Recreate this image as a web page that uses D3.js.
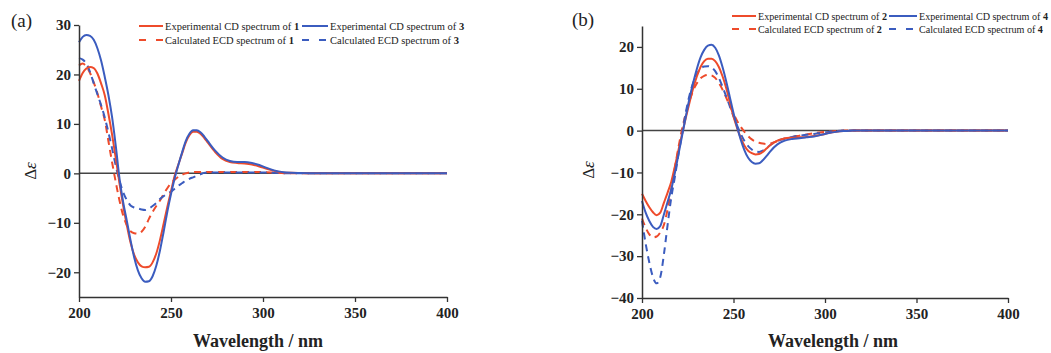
<!DOCTYPE html>
<html>
<head>
<meta charset="utf-8">
<script src="https://cdn.jsdelivr.net/npm/d3@7"></script>
<style>
  body { margin: 0; background: #fff; }
  text { font-family: "Liberation Serif", "Times New Roman", serif; fill: #222; }
</style>
</head>
<body>
<script>
// wavelengths (nm) shared by every curve
const wavelengths = [200,202,204,206,208,210,212,214,216,218,220,222,224,226,228,230,232,234,236,238,
  240,242,244,246,248,250,252,254,256,258,260,262,264,266,268,270,
  274,278,282,286,290,294,298,302,306,310,315,320,330,350,400];

// panel (a)
const expA1 = [18.7,20.3,21.2,21.5,21.3,20.2,18.2,15.8,12.0,7.8,3.0,-2.0,-6.5,-10.5,-14.0,-16.5,-18.0,-18.8,-19.0,-18.9,
  -18.0,-16.2,-13.5,-10.2,-6.8,-3.6,-0.5,1.8,4.0,6.2,7.7,8.4,8.4,8.0,7.2,6.2,
  4.3,2.9,2.3,2.1,2.0,1.8,1.4,0.9,0.5,0.2,0.1,0.05,0,0,0];
const expA3 = [26.5,27.6,28.0,27.8,27.0,25.3,22.8,19.5,15.8,11.3,5.5,-1.0,-5.8,-9.6,-13.5,-17.0,-19.6,-21.2,-21.9,-21.8,
  -20.8,-18.7,-15.6,-11.8,-7.8,-4.2,-1.0,1.7,4.2,6.5,8.0,8.7,8.7,8.3,7.5,6.5,
  4.6,3.2,2.5,2.3,2.3,2.1,1.7,1.1,0.6,0.3,0.1,0.05,0,0,0];
const calcA1 = [21.8,22.2,21.6,20.3,18.4,16.2,13.5,10.8,6.5,2.2,-1.8,-5.5,-8.5,-10.5,-11.7,-12.1,-12.2,-11.8,-10.8,-9.2,
  -7.8,-6.6,-5.5,-4.2,-3.0,-2.0,-1.3,-0.7,-0.3,0.0,0.2,0.3,0.3,0.3,0.3,0.3,
  0.3,0.3,0.3,0.3,0.3,0.3,0.3,0.25,0.15,0.05,0,0,0,0,0];
const calcA3 = [23.3,23.0,22.2,20.5,18.2,16.0,13.8,11.3,8.3,5.0,1.5,-1.5,-3.8,-5.4,-6.5,-6.9,-7.1,-7.3,-7.4,-7.1,
  -6.6,-6.0,-5.2,-4.6,-4.1,-3.7,-3.1,-2.5,-2.0,-1.5,-1.1,-0.8,-0.5,-0.2,0.1,0.2,
  0.2,0.2,0.2,0.2,0.2,0.2,0.2,0.2,0.1,0.05,0,0,0,0,0];

// panel (b)
const expB2 = [-15.1,-16.8,-18.3,-19.5,-20.2,-19.6,-17.2,-14.8,-12.2,-8.5,-4.5,-0.6,3.2,6.8,10.2,13.0,15.2,16.6,17.2,17.2,
  16.6,15.2,13.0,10.2,6.8,3.4,0.6,-1.8,-3.6,-4.8,-5.4,-5.7,-5.6,-5.1,-4.3,-3.5,
  -2.4,-1.9,-1.7,-1.6,-1.5,-1.3,-1.0,-0.6,-0.3,-0.1,0,0.05,0.05,0,0];
const expB4 = [-16.8,-19.6,-21.6,-23.0,-23.5,-22.8,-20.0,-17.0,-14.0,-10.0,-5.5,-1.0,3.5,7.8,11.5,14.8,17.5,19.3,20.3,20.5,
  19.8,18.0,15.2,11.8,8.0,4.2,0.8,-2.2,-4.7,-6.5,-7.5,-7.9,-7.8,-7.1,-6.1,-5.0,
  -3.3,-2.4,-2.0,-1.8,-1.6,-1.4,-1.0,-0.6,-0.3,-0.1,0,0.05,0.05,0,0];
const calcB2 = [-21.0,-23.2,-24.8,-25.5,-25.3,-24.3,-22.5,-18.8,-14.0,-8.8,-3.8,0.6,4.2,7.2,9.6,11.3,12.5,13.1,13.3,13.2,
  12.6,11.4,9.8,7.9,5.9,4.0,2.3,0.9,-0.3,-1.3,-2.1,-2.6,-2.9,-3.1,-3.2,-3.1,
  -2.5,-1.9,-1.5,-1.2,-0.9,-0.6,-0.4,-0.2,-0.1,0,0,0,0,0,0];
const calcB4 = [-21.5,-27.0,-31.5,-35.0,-36.5,-35.0,-29.5,-22.5,-16.0,-11.0,-5.5,-0.5,4.5,8.5,11.5,13.5,14.8,15.3,15.4,15.1,
  14.2,12.6,10.5,8.2,5.8,3.4,1.2,-0.8,-2.5,-3.7,-4.5,-5.0,-5.1,-4.8,-4.2,-3.5,
  -2.5,-1.9,-1.5,-1.2,-1.0,-0.8,-0.5,-0.3,-0.1,0,0,0,0,0,0];

const xTicks = [200,250,300,350,400];
const xMinor = [225,275,325,375];
const yTicksA = [-20,-10,0,10,20,30];
const yMinorA = [-25,-15,-5,5,15,25];
const yTicksB = [-40,-30,-20,-10,0,10,20];
const yMinorB = [-35,-25,-15,-5,5,15,25];

const red = "#ee4b2b", blue = "#3b5cbf";
const W = 1051, H = 353;

const svg = d3.select("body").append("svg").attr("width", W).attr("height", H);

function drawPanel(p) {
  const x = d3.scaleLinear().domain([200, 400]).range([p.x0, p.x1]);
  const y = d3.scaleLinear().domain(p.ydom).range([p.yb, p.yt]);
  const g = svg.append("g");

  // zero line
  g.append("line")
    .attr("x1", x(200)).attr("x2", x(400))
    .attr("y1", y(0)).attr("y2", y(0))
    .attr("stroke", "#444").attr("stroke-width", 1.5);

  const line = d3.line()
    .x((d, i) => x(wavelengths[i]))
    .y(d => y(d))
    .curve(d3.curveMonotoneX);

  p.series.forEach(s => {
    g.append("path")
      .datum(s.values)
      .attr("d", line)
      .attr("fill", "none")
      .attr("stroke", s.color)
      .attr("stroke-width", 2)
      .attr("stroke-dasharray", s.dash ? "7,5" : null);
  });

  // axes
  const ax = g.append("g").attr("transform", "translate(0," + p.yb + ")");
  ax.call(d3.axisBottom(x).tickValues(xMinor).tickSize(3).tickSizeOuter(0).tickFormat(""));
  ax.call(d3.axisBottom(x).tickValues(xTicks).tickSize(5).tickSizeOuter(0).tickPadding(5));
  const ay = g.append("g").attr("transform", "translate(" + p.x0 + ",0)");
  ay.call(d3.axisLeft(y).tickValues(p.yMinor).tickSize(3).tickSizeOuter(0).tickFormat(""));
  ay.call(d3.axisLeft(y).tickValues(p.yTicks).tickSize(5).tickSizeOuter(0).tickPadding(3));
  g.selectAll(".domain").attr("stroke", "#333").attr("stroke-width", 1.5);
  g.selectAll(".tick line").attr("stroke", "#333").attr("stroke-width", 1.3);
  g.selectAll(".tick text")
    .style("font-family", "'Liberation Serif', serif")
    .style("font-size", "15px").style("font-weight", "bold").attr("fill", "#222");

  // axis titles
  g.append("text")
    .attr("x", p.xlabX).attr("y", 347)
    .attr("text-anchor", "middle")
    .style("font-size", "18px").style("font-weight", "bold")
    .text("Wavelength / nm");
  const yl = g.append("text")
    .attr("transform", "translate(" + p.ylab[0] + "," + p.ylab[1] + ") rotate(-90)")
    .attr("text-anchor", "middle")
    .style("font-size", "17px");
  yl.append("tspan").text("Δ");
  yl.append("tspan").style("font-style", "italic").text("ε");

  g.append("text")
    .attr("x", p.tag[0]).attr("y", p.tag[1])
    .style("font-size", "19px")
    .text(p.tagText);

  // legend
  p.legend.forEach(l => {
    g.append("line")
      .attr("x1", l.x).attr("x2", l.x + l.len)
      .attr("y1", l.y).attr("y2", l.y)
      .attr("stroke", l.color).attr("stroke-width", 2)
      .attr("stroke-dasharray", l.dash ? "7,10" : null);
    const t = g.append("text")
      .attr("x", l.x + l.len + 2).attr("y", l.y + 3.5)
      .style("font-size", p.legendSize);
    t.append("tspan").text(l.label);
    t.append("tspan").style("font-weight", "bold").text(l.num);
  });
}

drawPanel({
  x0: 79, x1: 447, ydom: [-25, 30], yb: 297, yt: 25,
  yTicks: yTicksA, yMinor: yMinorA,
  xlabX: 258, ylab: [36, 171], tag: [11, 27], tagText: "(a)", legendSize: "10.5px",
  series: [
    { values: calcA1, color: red, dash: true },
    { values: calcA3, color: blue, dash: true },
    { values: expA1, color: red, dash: false },
    { values: expA3, color: blue, dash: false }
  ],
  legend: [
    { x: 139, y: 26, len: 24, color: red, dash: false, label: "Experimental CD spectrum of ", num: "1" },
    { x: 302, y: 26, len: 26, color: blue, dash: false, label: "Experimental CD spectrum of ", num: "3" },
    { x: 139, y: 40, len: 24, color: red, dash: true, label: "Calculated ECD spectrum of ", num: "1" },
    { x: 302, y: 40, len: 26, color: blue, dash: true, label: "Calculated ECD spectrum of ", num: "3" }
  ]
});

drawPanel({
  x0: 642, x1: 1008, ydom: [-40, 25], yb: 298, yt: 26,
  yTicks: yTicksB, yMinor: yMinorB,
  xlabX: 833, ylab: [594, 170], tag: [572, 26], tagText: "(b)", legendSize: "10.1px",
  series: [
    { values: calcB2, color: red, dash: true },
    { values: calcB4, color: blue, dash: true },
    { values: expB2, color: red, dash: false },
    { values: expB4, color: blue, dash: false }
  ],
  legend: [
    { x: 732, y: 16, len: 24, color: red, dash: false, label: "Experimental CD spectrum of ", num: "2" },
    { x: 889, y: 16, len: 28, color: blue, dash: false, label: "Experimental CD spectrum of ", num: "4" },
    { x: 732, y: 29, len: 24, color: red, dash: true, label: "Calculated ECD spectrum of ", num: "2" },
    { x: 889, y: 29, len: 28, color: blue, dash: true, label: "Calculated ECD spectrum of ", num: "4" }
  ]
});
</script>
</body>
</html>
